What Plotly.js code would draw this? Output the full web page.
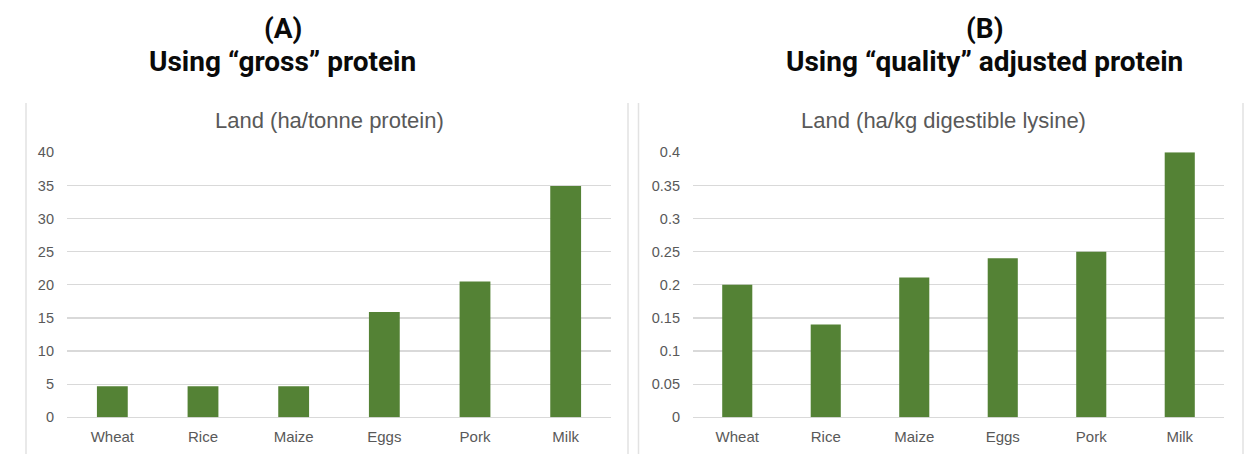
<!DOCTYPE html>
<html>
<head>
<meta charset="utf-8">
<script src="https://cdn.plot.ly/plotly-3.0.1.min.js"></script>
<style>
  html, body { margin: 0; padding: 0; background: #ffffff; }
  #chart { width: 1250px; height: 454px; }
</style>
</head>
<body>
<div id="chart"></div>
<script>
// ---- Data ----
const categories = ['Wheat', 'Rice', 'Maize', 'Eggs', 'Pork', 'Milk'];
const landPerTonneProtein = [4.7, 4.7, 4.7, 15.9, 20.5, 34.9];
const landPerKgLysine = [0.2, 0.14, 0.211, 0.24, 0.25, 0.4];

const yTicksA = [0, 5, 10, 15, 20, 25, 30, 35, 40];
const yTicksB = [0, 0.05, 0.1, 0.15, 0.2, 0.25, 0.3, 0.35, 0.4];
const yTickTextB = ['0', '0.05', '0.1', '0.15', '0.2', '0.25', '0.3', '0.35', '0.4'];

const panelLetterA = '(A)';
const panelSubtitleA = 'Using “gross” protein';
const panelLetterB = '(B)';
const panelSubtitleB = 'Using “quality” adjusted protein';
const chartTitleA = 'Land (ha/tonne protein)';
const chartTitleB = 'Land (ha/kg digestible lysine)';

// ---- Styling ----
const W = 1250, H = 454;
const px = v => v / W;
const py = v => 1 - v / H;
const barColor = '#548235';
const gridColor = '#d9d9d9';
const textGray = '#595959';
const chartFont = 'Liberation Sans, Arial, sans-serif';
const headFont = 'Roboto, Arial, sans-serif';

const traces = [
  { type: 'bar', x: categories, y: landPerTonneProtein, xaxis: 'x', yaxis: 'y',
    marker: { color: barColor }, hoverinfo: 'skip' },
  { type: 'bar', x: categories, y: landPerKgLysine, xaxis: 'x2', yaxis: 'y2',
    marker: { color: barColor }, hoverinfo: 'skip' }
];

const xAxisCommon = {
  type: 'category', showgrid: false, zeroline: false, showline: false, ticks: '',
  tickfont: { family: chartFont, size: 15, color: textGray }, ticklabelstandoff: 9,
  fixedrange: true
};
const yAxisCommon = {
  showgrid: true, gridcolor: gridColor, gridwidth: 1.2, zeroline: true,
  zerolinecolor: gridColor, zerolinewidth: 1.2, showline: false, ticks: '',
  tickfont: { family: chartFont, size: 14.5, color: textGray }, ticklabelstandoff: 12,
  tickmode: 'array', fixedrange: true
};

const yTop = py(152.3), yBot = py(417.3);

const layout = {
  width: W, height: H,
  margin: { l: 0, r: 0, t: 0, b: 0, pad: 0 },
  paper_bgcolor: '#ffffff', plot_bgcolor: '#ffffff',
  showlegend: false, bargap: 0.66,
  xaxis: Object.assign({}, xAxisCommon, { domain: [px(67), px(611)], anchor: 'y' }),
  yaxis: Object.assign({}, yAxisCommon, { domain: [yBot, yTop], anchor: 'x',
    range: [0, 40], tickvals: yTicksA }),
  xaxis2: Object.assign({}, xAxisCommon, { domain: [px(693), px(1224)], anchor: 'y2' }),
  yaxis2: Object.assign({}, yAxisCommon, { domain: [yBot, yTop], anchor: 'x2',
    range: [0, 0.4], tickvals: yTicksB, ticktext: yTickTextB }),
  shapes: [
    { type: 'line', xref: 'paper', yref: 'paper', x0: px(26), x1: px(26), y0: 0, y1: py(103),
      line: { color: '#e2e2e2', width: 1.5 } },
    { type: 'line', xref: 'paper', yref: 'paper', x0: px(628), x1: px(628), y0: 0, y1: py(103),
      line: { color: '#e2e2e2', width: 1.5 } },
    { type: 'line', xref: 'paper', yref: 'paper', x0: px(638.5), x1: px(638.5), y0: 0, y1: py(103),
      line: { color: '#e2e2e2', width: 1.5 } },
    { type: 'line', xref: 'paper', yref: 'paper', x0: px(1243), x1: px(1243), y0: 0, y1: py(103),
      line: { color: '#e2e2e2', width: 1.5 } }
  ],
  annotations: [
    { text: '<b>' + panelLetterA + '</b>', xref: 'paper', yref: 'paper', x: px(283), y: py(29),
      xanchor: 'center', yanchor: 'middle', showarrow: false,
      font: { family: headFont, size: 28, color: '#0a0a0a' } },
    { text: '<b>' + panelSubtitleA + '</b>', xref: 'paper', yref: 'paper', x: px(282), y: py(61),
      xanchor: 'center', yanchor: 'middle', showarrow: false,
      font: { family: headFont, size: 28, color: '#0a0a0a' } },
    { text: '<b>' + panelLetterB + '</b>', xref: 'paper', yref: 'paper', x: px(985), y: py(29),
      xanchor: 'center', yanchor: 'middle', showarrow: false,
      font: { family: headFont, size: 28, color: '#0a0a0a' } },
    { text: '<b>' + panelSubtitleB + '</b>', xref: 'paper', yref: 'paper', x: px(984), y: py(61),
      xanchor: 'center', yanchor: 'middle', showarrow: false,
      font: { family: headFont, size: 28, color: '#0a0a0a' } },
    { text: chartTitleA, xref: 'paper', yref: 'paper', x: px(329), y: py(120),
      xanchor: 'center', yanchor: 'middle', showarrow: false,
      font: { family: chartFont, size: 22, color: textGray } },
    { text: chartTitleB, xref: 'paper', yref: 'paper', x: px(943), y: py(120),
      xanchor: 'center', yanchor: 'middle', showarrow: false,
      font: { family: chartFont, size: 22, color: textGray } }
  ]
};

Plotly.newPlot('chart', traces, layout, { staticPlot: true, displayModeBar: false });
</script>
</body>
</html>
